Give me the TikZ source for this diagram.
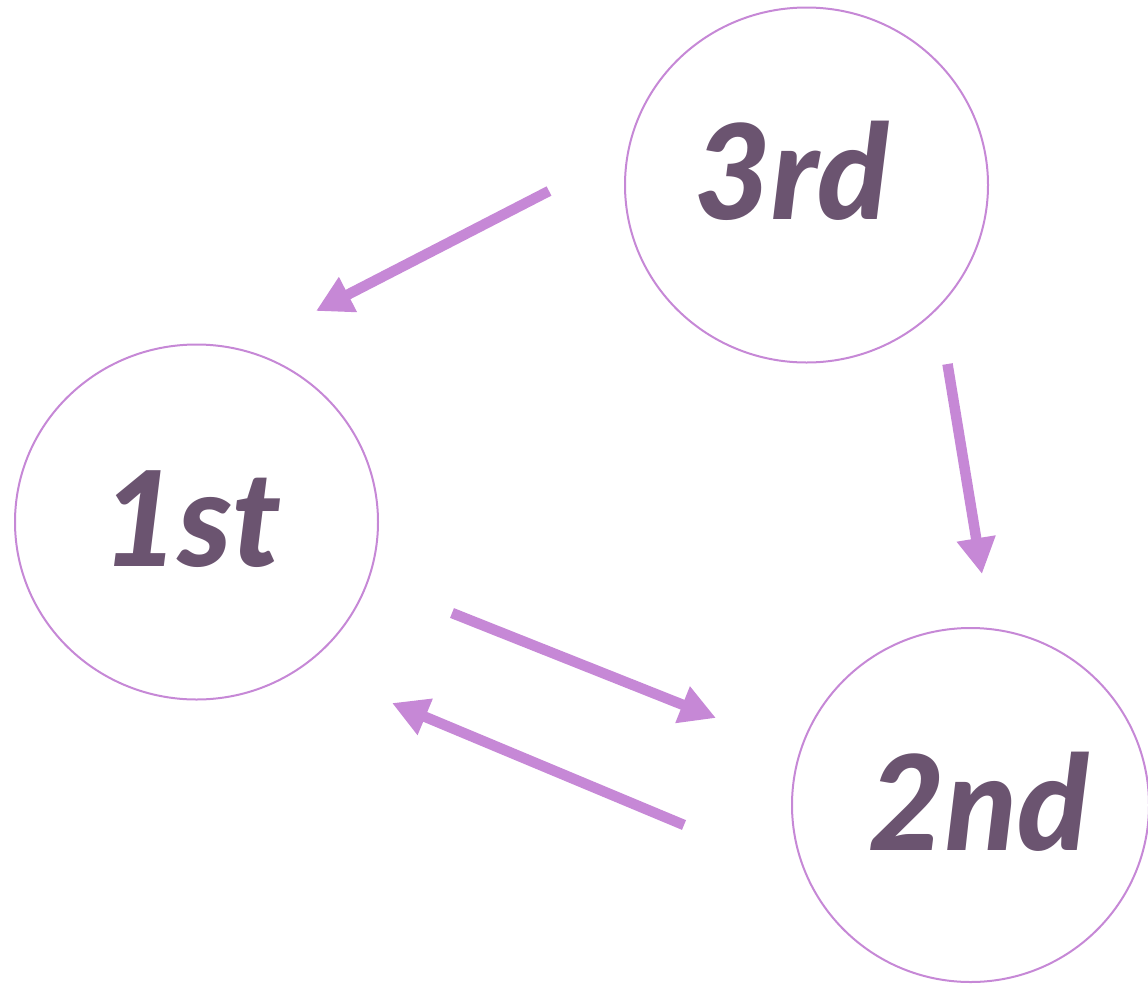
\documentclass[tikz,border=0pt]{standalone}
\usepackage{fontspec}
\usetikzlibrary{arrows.meta}
\newfontfamily\ranklabel{Lato}[UprightFont={* Black Italic}]
\definecolor{ringc}{HTML}{C688D6}
\definecolor{textc}{HTML}{6B5470}
\tikzset{
  ring/.style={draw=ringc, line width=2pt},
  flow/.style={draw=ringc, line width=10.5pt, -{Triangle[length=36pt, width=37pt]}},
  rank/.style={text=textc, font=\ranklabel\fontsize{132}{132}\selectfont, anchor=base, inner sep=0pt}
}
\begin{document}
\begin{tikzpicture}[x=1pt, y=-1pt]
  \useasboundingbox (0,0) rectangle (1148,983);
  % the three rings
  \draw[ring] (806.5,185) ellipse [x radius=181.5, y radius=177.5];
  \draw[ring] (196.5,522) ellipse [x radius=181.5, y radius=177.5];
  \draw[ring] (970.5,805) ellipse [x radius=178.5, y radius=177];
  % labels
  \node[rank] (third) at (792,219) {3rd};
  \node[rank] (first) at (192,566) {1st};
  \node[rank] (second) at (979,850) {2nd};
  % connector end points
  \coordinate (a1) at (549,191);
  \coordinate (b1) at (316,311);
  \coordinate (a2) at (947.5,364);
  \coordinate (b2) at (982,574);
  \coordinate (a3) at (452,613);
  \coordinate (b3) at (716,718);
  \coordinate (a4) at (684,825);
  \coordinate (b4) at (392,703);
  \draw[flow] (a1) -- (b1);
  \draw[flow] (a2) -- (b2);
  \draw[flow] (a3) -- (b3);
  \draw[flow] (a4) -- (b4);
\end{tikzpicture}
\end{document}
